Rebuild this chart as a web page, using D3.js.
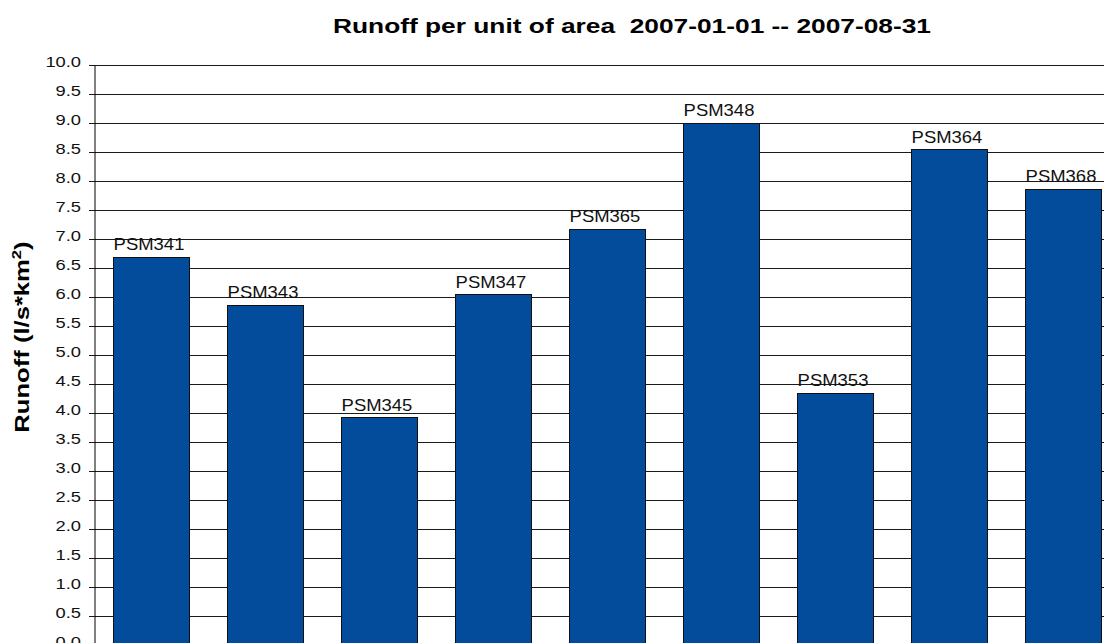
<!DOCTYPE html>
<html><head><meta charset="utf-8">
<script src="https://cdn.jsdelivr.net/npm/d3@7"></script>
<style>
body{margin:0;background:#fff;}
svg{display:block;font-family:"Liberation Sans",Arial,sans-serif;}
.sx{transform-box:fill-box;}
</style></head><body>
<svg id="c" width="1104" height="643"></svg>
<script>
const categories = ["PSM341","PSM343","PSM345","PSM347","PSM365","PSM348","PSM353","PSM364","PSM368"];
const values = [6.69, 5.87, 3.93, 6.05, 7.18, 9.00, 4.35, 8.55, 7.87];
const yTicks = [0,0.5,1,1.5,2,2.5,3,3.5,4,4.5,5,5.5,6,6.5,7,7.5,8,8.5,9,9.5,10];
const title = "Runoff per unit of area  2007-01-01 -- 2007-08-31";

const svg = d3.select("#c");
const y = d3.scaleLinear().domain([0,10]).range([645,65]);
const x = d3.scaleBand().domain(categories).range([94,1120]).paddingInner(1/3).paddingOuter(1/6);

// gridlines
svg.append("g").selectAll("line").data(yTicks).join("line")
  .attr("x1",89).attr("x2",1104)
  .attr("y1",d=>Math.round(y(d))+0.5).attr("y2",d=>Math.round(y(d))+0.5)
  .attr("stroke","#1a1a1a").attr("stroke-width",1);

// y axis
const ya = svg.append("g").attr("transform","translate(94.5,0)")
  .call(d3.axisLeft(y).tickValues(yTicks).tickFormat(d3.format(".1f")).tickSize(0).tickPadding(13.5));
ya.select(".domain").attr("stroke","#000");
ya.selectAll("text").attr("font-size",15.4).attr("fill","#111").attr("dy","0.1em")
  .attr("font-family","'Liberation Sans',Arial,sans-serif")
  .attr("class","sx").style("transform-origin","right center").style("transform","scaleX(1.19)");

// bars
svg.append("g").selectAll("rect").data(values).join("rect")
  .attr("x",(d,i)=>Math.round(x(categories[i]))+0.5)
  .attr("y",d=>Math.round(y(d))+0.5)
  .attr("width",x.bandwidth())
  .attr("height",d=>y(0)-Math.round(y(d)))
  .attr("fill","#034c9c").attr("stroke","#111").attr("stroke-width",1);

// labels
svg.append("g").selectAll("text").data(values).join("text")
  .attr("x",(d,i)=>x(categories[i])+x.bandwidth()/2-2)
  .attr("y",d=>y(d)-6.5)
  .attr("text-anchor","middle").attr("font-size",16.5).attr("fill","#111")
  .attr("class","sx").style("transform-origin","center bottom").style("transform","scaleX(1.12)")
  .text((d,i)=>categories[i]);

// title
svg.append("text").attr("x",333).attr("y",32.5).attr("text-anchor","start")
  .attr("font-size",20).attr("font-weight","bold").attr("fill","#000")
  .style("white-space","pre")
  .attr("textLength",598).attr("lengthAdjust","spacingAndGlyphs")
  .text(title);

// y title
const yt = svg.append("text").attr("transform","translate(29,337) rotate(-90) scale(1.28,1)")
  .attr("text-anchor","middle").attr("font-size",20).attr("font-weight","bold").attr("fill","#000");
yt.append("tspan").text("Runoff (l/s*km");
yt.append("tspan").attr("font-size",13).attr("dy",-8).text("2");
yt.append("tspan").attr("dy",8).text(")");
</script></body></html>
